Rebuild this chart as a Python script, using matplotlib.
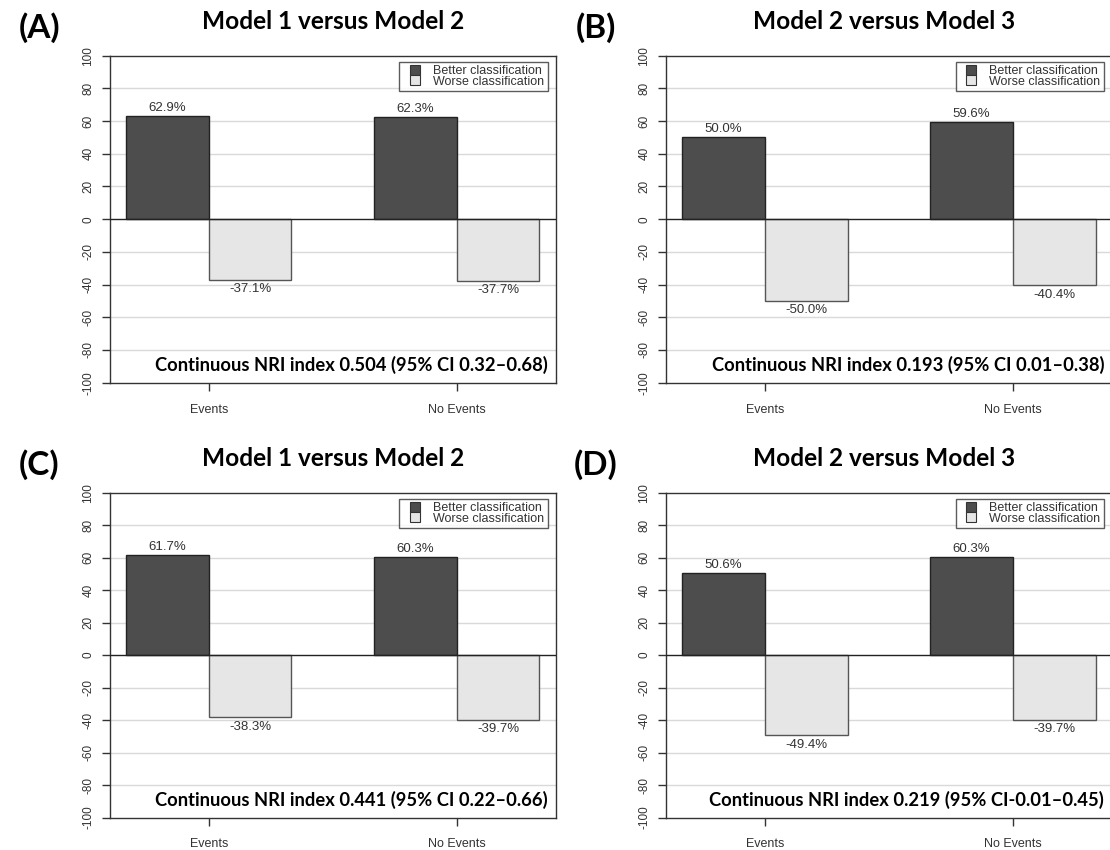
import matplotlib as mpl
import matplotlib.pyplot as plt
from matplotlib.lines import Line2D
import numpy as np

groups = ['Events', 'No Events']
panel_tags = ['(A)', '(B)', '(C)', '(D)']
titles = ['Model 1 versus Model 2', 'Model 2 versus Model 3',
          'Model 1 versus Model 2', 'Model 2 versus Model 3']
better = [[62.9, 62.3], [50.0, 59.6], [61.7, 60.3], [50.6, 60.3]]
worse = [[-37.1, -37.7], [-50.0, -40.4], [-38.3, -39.7], [-49.4, -39.7]]
nri = ['Continuous NRI index 0.504 (95% CI 0.32\u20130.68)',
       'Continuous NRI index 0.193 (95% CI 0.01\u20130.38)',
       'Continuous NRI index 0.441 (95% CI 0.22\u20130.66)',
       'Continuous NRI index 0.219 (95% CI-0.01\u20130.45)']
yticks = np.arange(-100, 101, 20)

dark = '#4d4d4d'
light = '#e6e6e6'
W, H = 1110, 850

mpl.rc('font', family='Liberation Sans', size=8)

fig = plt.figure(figsize=(W / 100, H / 100), dpi=100)

# axes boxes in pixels: left, top, right, bottom
boxes = [(109.5, 55.7, 556, 382.7), (665.7, 55.7, 1112.2, 382.7),
         (109.5, 492.7, 556, 817.5), (665.7, 492.7, 1112.2, 817.5)]

for i in range(4):
    l, t, r, b = boxes[i]
    w, h = r - l, b - t
    ax = fig.add_axes([l / W, 1 - b / H, w / W, h / H])
    x = np.arange(len(groups)) * 3
    ax.bar(x + 0.5, better[i], width=1, color=dark, edgecolor='#222222',
           linewidth=1, zorder=3)
    ax.bar(x + 1.5, worse[i], width=1, color=light, edgecolor='#555555',
           linewidth=1, zorder=3)
    for xi, v in zip(x, better[i]):
        ax.annotate(f'{v:.1f}%', (xi + 0.5, v), xytext=(0, 1.5),
                    textcoords='offset points', ha='center', va='bottom',
                    fontsize=9.5, color='#333333')
    for xi, v in zip(x, worse[i]):
        ax.annotate(f'{v:.1f}%', (xi + 1.5, v), xytext=(0, -2.5),
                    textcoords='offset points', ha='center', va='top',
                    fontsize=9.5, color='#333333')
    ax.axhline(0, color='#222222', lw=1, zorder=4)
    for yv in yticks[1:-1]:
        if yv != 0:
            ax.axhline(yv, color='#d9d9d9', lw=1, zorder=1)
    ax.set_xlim(-0.2, 5.2)
    ax.set_ylim(-100, 100)
    ax.set_yticks(yticks)
    ax.set_yticklabels([str(v) for v in yticks], rotation=90, va='center',
                       color='#333333', fontsize=8.5)
    ax.set_xticks(x + 1)
    ax.set_xticklabels(groups, color='#333333', fontsize=9)
    ax.tick_params(axis='both', length=6, width=1, color='#333333')
    ax.tick_params(axis='y', pad=5)
    ax.tick_params(axis='x', pad=9)
    for s in ax.spines.values():
        s.set_color('#333333')
        s.set_linewidth(1)
    handles = [Line2D([], [], ls='', marker='s', markersize=7,
                      markerfacecolor=c, markeredgecolor='#333333',
                      markeredgewidth=0.8) for c in (dark, light)]
    leg = ax.legend(handles, ['Better classification', 'Worse classification'],
                    loc='upper right', bbox_to_anchor=(1 - 8 / w, 1 - 6 / h),
                    fontsize=9, frameon=True, fancybox=False, borderpad=0.3,
                    handlelength=1.9, handletextpad=0.5,
                    labelspacing=-0.15, borderaxespad=0)
    leg.get_frame().set_edgecolor('#333333')
    leg.get_frame().set_linewidth(1)
    for txt in leg.get_texts():
        txt.set_color('#333333')
    ax.text(1 - 8 / w, 18 / h, nri[i], transform=ax.transAxes,
            ha='right', va='center', fontsize=13.2, fontweight='bold',
            family='Lato', zorder=5)
    cx = (l + r) / 2 if i % 2 == 0 else 884
    fig.text(cx / W, 1 - (t - 34) / H, titles[i], ha='center', va='center',
             fontsize=17.6, fontweight='bold', family='Lato')
    fig.text((l - 70) / W, 1 - (t - 28) / H, panel_tags[i], ha='center',
             va='center', fontsize=24, fontweight='bold', family='Lato')

plt.savefig('out.png', dpi=100)
